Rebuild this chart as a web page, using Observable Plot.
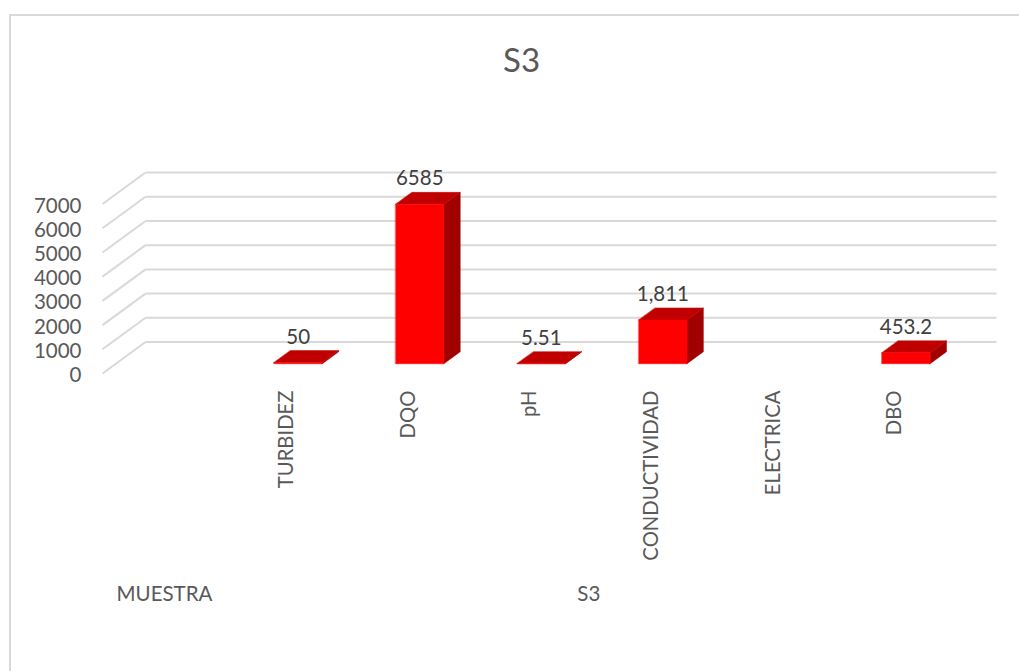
<!DOCTYPE html>
<html>
<head>
<meta charset="utf-8">
<script src="https://cdn.jsdelivr.net/npm/d3@7"></script>
<script src="https://cdn.jsdelivr.net/npm/@observablehq/plot@0.6"></script>
<style>
html,body{margin:0;padding:0;background:#fff;overflow:hidden}
#frame{position:absolute;left:9px;top:14px;right:0;bottom:0;border-left:2px solid #d9d9d9;border-top:2px solid #d9d9d9}
#chart{position:absolute;left:0;top:0}
svg{background:transparent!important}
</style>
</head>
<body>
<div id="frame"></div>
<div id="chart"></div>
<script>
const title = "S3";
const categories = ["", "TURBIDEZ", "DQO", "pH", "CONDUCTIVIDAD", "ELECTRICA", "DBO"];
const values = [null, 50, 6585, 5.51, 1811, null, 453.2];
const valueLabels = ["", "50", "6585", "5.51", "1,811", "", "453.2"];
const gridTicks = [0, 1000, 2000, 3000, 4000, 5000, 6000, 7000];
const groupLabels = ["MUESTRA", "S3"];
const groupPositions = [0.51, 4];

const wallX = 0.354, wallY = 1300;        // oblique depth of the chart box, in data units
const barD0 = 0.31, barD1 = 0.69, barW = 0.397;
const font = "Lato, Carlito, 'Open Sans', sans-serif";
const textColor = "#595959";

const bars = categories.map((c, i) => ({c, i, v: values[i], label: valueLabels[i]})).filter(d => d.v != null);
const cx = d => d.i + 0.5 - barW / 2;
const pt = (d, dx, v, depth) => ({id: d.c, x: cx(d) + dx + depth * wallX, y: v + depth * wallY});

const front = bars.flatMap(d => [pt(d,0,0,barD0), pt(d,barW,0,barD0), pt(d,barW,d.v,barD0), pt(d,0,d.v,barD0)]);
const top3d = bars.flatMap(d => [pt(d,0,d.v,barD0), pt(d,barW,d.v,barD0), pt(d,barW,d.v,barD1), pt(d,0,d.v,barD1)]);
const side = bars.flatMap(d => [pt(d,barW,0,barD0), pt(d,barW,0,barD1), pt(d,barW,d.v,barD1), pt(d,barW,d.v,barD0)]);
const face = (rows, fill) => Plot.line(rows, {x: "x", y: "y", z: "id", fill, stroke: fill, strokeWidth: 0.5, curve: "linear-closed"});

const chart = Plot.plot({
  width: 1019, height: 671,
  marginLeft: 102, marginRight: 23, marginTop: 172, marginBottom: 298,
  style: {fontFamily: font, background: "transparent", overflow: "visible"},
  x: {type: "linear", domain: [0, categories.length + wallX], axis: null},
  y: {domain: [0, 8302], axis: null},
  marks: [
    Plot.link(gridTicks, {x1: 0, x2: wallX, y1: d => d, y2: d => d + wallY, stroke: "#d9d9d9", strokeWidth: 2}),
    Plot.link(gridTicks, {x1: wallX, x2: categories.length + wallX, y1: d => d + wallY, y2: d => d + wallY, stroke: "#d9d9d9", strokeWidth: 2}),
    Plot.axisY({ticks: gridTicks, tickSize: 0, tickPadding: 21, dy: 2, label: null, fontSize: 20.5, color: textColor, tickFormat: d => String(d)}),
    face(side, "#a00000"),
    face(top3d, "#c00000"),
    face(front, "#ff0000"),
    Plot.text(bars, {x: d => cx(d) + barW / 2 + barD0 * wallX, y: d => d.v + barD1 * wallY, text: "label", dy: -13.5, fontSize: 20.5, fill: "#404040"}),
    Plot.text(categories, {x: (d, i) => i + 0.5, y: 0, text: d => d, rotate: -90, textAnchor: "end", dx: 2, dy: 17, fontSize: 20.3, fill: textColor}),
    Plot.text(groupLabels, {x: (d, i) => groupPositions[i], y: 0, text: d => d, dy: 220.5, fontSize: 20.5, fill: textColor}),
    Plot.text([title], {frameAnchor: "top", text: d => d, dx: -28, dy: -124, fontSize: 33, fill: textColor})
  ]
});
document.getElementById("chart").appendChild(chart);
</script>
</body>
</html>
